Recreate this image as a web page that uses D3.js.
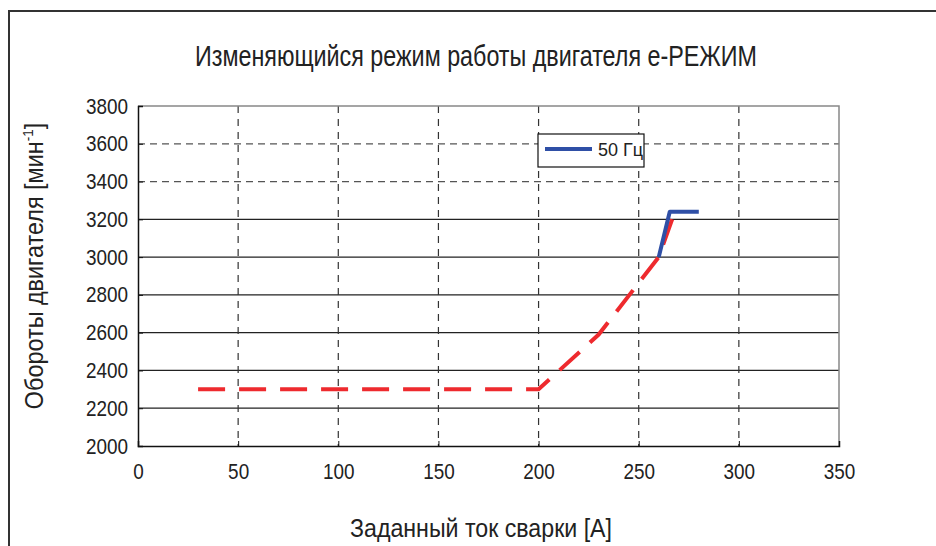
<!DOCTYPE html>
<html>
<head>
<meta charset="utf-8">
<script src="https://cdn.jsdelivr.net/npm/d3@7"></script>
<style>
  body { margin: 0; background: #fff; }
  text { font-family: "Liberation Sans", Arial, sans-serif; fill: #222; }
</style>
</head>
<body>
<div id="root"></div>
<script>
// data
const xTicks = [0, 50, 100, 150, 200, 250, 300, 350]
const yTicks = [2000, 2200, 2400, 2600, 2800, 3000, 3200, 3400, 3600, 3800]
const redCurrent = [30, 200, 230, 260, 268]
const redSpeed = [2300, 2300, 2590, 3000, 3240]
const blueCurrent = [260, 265.5, 280]
const blueSpeed = [3000, 3240, 3240]
const legendLabel = '50 Гц'

const svg = d3.select('#root').append('svg')
  .attr('width', 936)
  .attr('height', 546)

// outer frame
svg.append('path')
  .attr('d', 'M9,546 L9,11 L936,11')
  .attr('fill', 'none')
  .attr('stroke', '#333')
  .attr('stroke-width', 2)

const x = d3.scaleLinear().domain([0, 350]).range([138, 839])
const y = d3.scaleLinear().domain([2000, 3800]).range([446, 106])

// horizontal grid: solid up to 3200, dashed above
svg.append('g')
  .selectAll('line')
  .data(yTicks.slice(1, -1))
  .join('line')
  .attr('x1', x(0)).attr('x2', x(350))
  .attr('y1', d => y(d)).attr('y2', d => y(d))
  .attr('stroke', d => d > 3200 ? '#555' : '#222')
  .attr('stroke-width', 1.2)
  .attr('stroke-dasharray', d => d > 3200 ? '7,5' : null)

// vertical grid (dashed)
svg.append('g')
  .selectAll('line')
  .data(xTicks.slice(1, -1))
  .join('line')
  .attr('x1', d => x(d)).attr('x2', d => x(d))
  .attr('y1', y(3800)).attr('y2', y(2000))
  .attr('stroke', '#333')
  .attr('stroke-width', 1.2)
  .attr('stroke-dasharray', '7,6')

// plot box: top/right grey, left/bottom black
svg.append('path')
  .attr('d', `M${x(0)},${y(3800)} L${x(350)},${y(3800)} L${x(350)},${y(2000)}`)
  .attr('fill', 'none')
  .attr('stroke', '#888')
  .attr('stroke-width', 1.5)

// the original uses a narrow face, so squeeze the glyphs a bit
const tickFont = g => g.selectAll('.tick text')
  .style('font-size', '22px')
  .style('font-family', '"Liberation Sans", Arial, sans-serif')
  .attr('fill', '#222')
  .attr('transform', 'scale(0.86,1)')

svg.append('g')
  .attr('transform', `translate(0,${y(2000)})`)
  .call(d3.axisBottom(x).tickValues(xTicks).tickSize(-5).tickPadding(17))
  .call(g => g.select('.domain').attr('stroke', '#111').attr('stroke-width', 1.5))
  .call(g => g.selectAll('.tick line').attr('stroke', '#111'))
  .call(tickFont)

svg.append('g')
  .attr('transform', `translate(${x(0)},0)`)
  .call(d3.axisLeft(y).tickValues(yTicks).tickFormat(d3.format('d')).tickSize(-5).tickPadding(11.5))
  .call(g => g.select('.domain').attr('stroke', '#111').attr('stroke-width', 1.5))
  .call(g => g.selectAll('.tick line').attr('stroke', '#111'))
  .call(tickFont)

const line = d3.line()
  .x(d => x(d[0]))
  .y(d => y(d[1]))

svg.append('path')
  .datum(d3.zip(redCurrent, redSpeed))
  .attr('d', line)
  .attr('fill', 'none')
  .attr('stroke', '#ee2a2e')
  .attr('stroke-width', 4)
  .attr('stroke-dasharray', '27,14')

svg.append('path')
  .datum(d3.zip(blueCurrent, blueSpeed))
  .attr('d', line)
  .attr('fill', 'none')
  .attr('stroke', '#2f4fa6')
  .attr('stroke-width', 4)
  .attr('stroke-linejoin', 'round')

// legend
const legend = svg.append('g').attr('transform', 'translate(538,134)')
legend.append('rect')
  .attr('width', 106).attr('height', 33)
  .attr('fill', '#fff')
  .attr('stroke', '#111')
  .attr('stroke-width', 1.2)
legend.append('line')
  .attr('x1', 7).attr('x2', 54)
  .attr('y1', 15).attr('y2', 15)
  .attr('stroke', '#2f4fa6')
  .attr('stroke-width', 4)
legend.append('text')
  .attr('x', 60).attr('y', 22)
  .style('font-size', '18px')
  .text(legendLabel)

// titles
svg.append('text')
  .attr('x', 476).attr('y', 66)
  .attr('text-anchor', 'middle')
  .style('font-size', '29px')
  .attr('textLength', 562)
  .attr('lengthAdjust', 'spacingAndGlyphs')
  .text('Изменяющийся режим работы двигателя e-РЕЖИМ')

svg.append('text')
  .attr('x', 481).attr('y', 537)
  .attr('text-anchor', 'middle')
  .style('font-size', '26px')
  .attr('textLength', 262)
  .attr('lengthAdjust', 'spacingAndGlyphs')
  .text('Заданный ток сварки [А]')

const yl = svg.append('text')
  .attr('transform', 'translate(43,266) rotate(-90) scale(0.9,1)')
  .attr('text-anchor', 'middle')
  .style('font-size', '26px')
yl.append('tspan').text('Обороты двигателя [мин')
yl.append('tspan').attr('dy', -10).style('font-size', '15px').text('-1')
yl.append('tspan').attr('dy', 10).text(']')
</script>
</body>
</html>
